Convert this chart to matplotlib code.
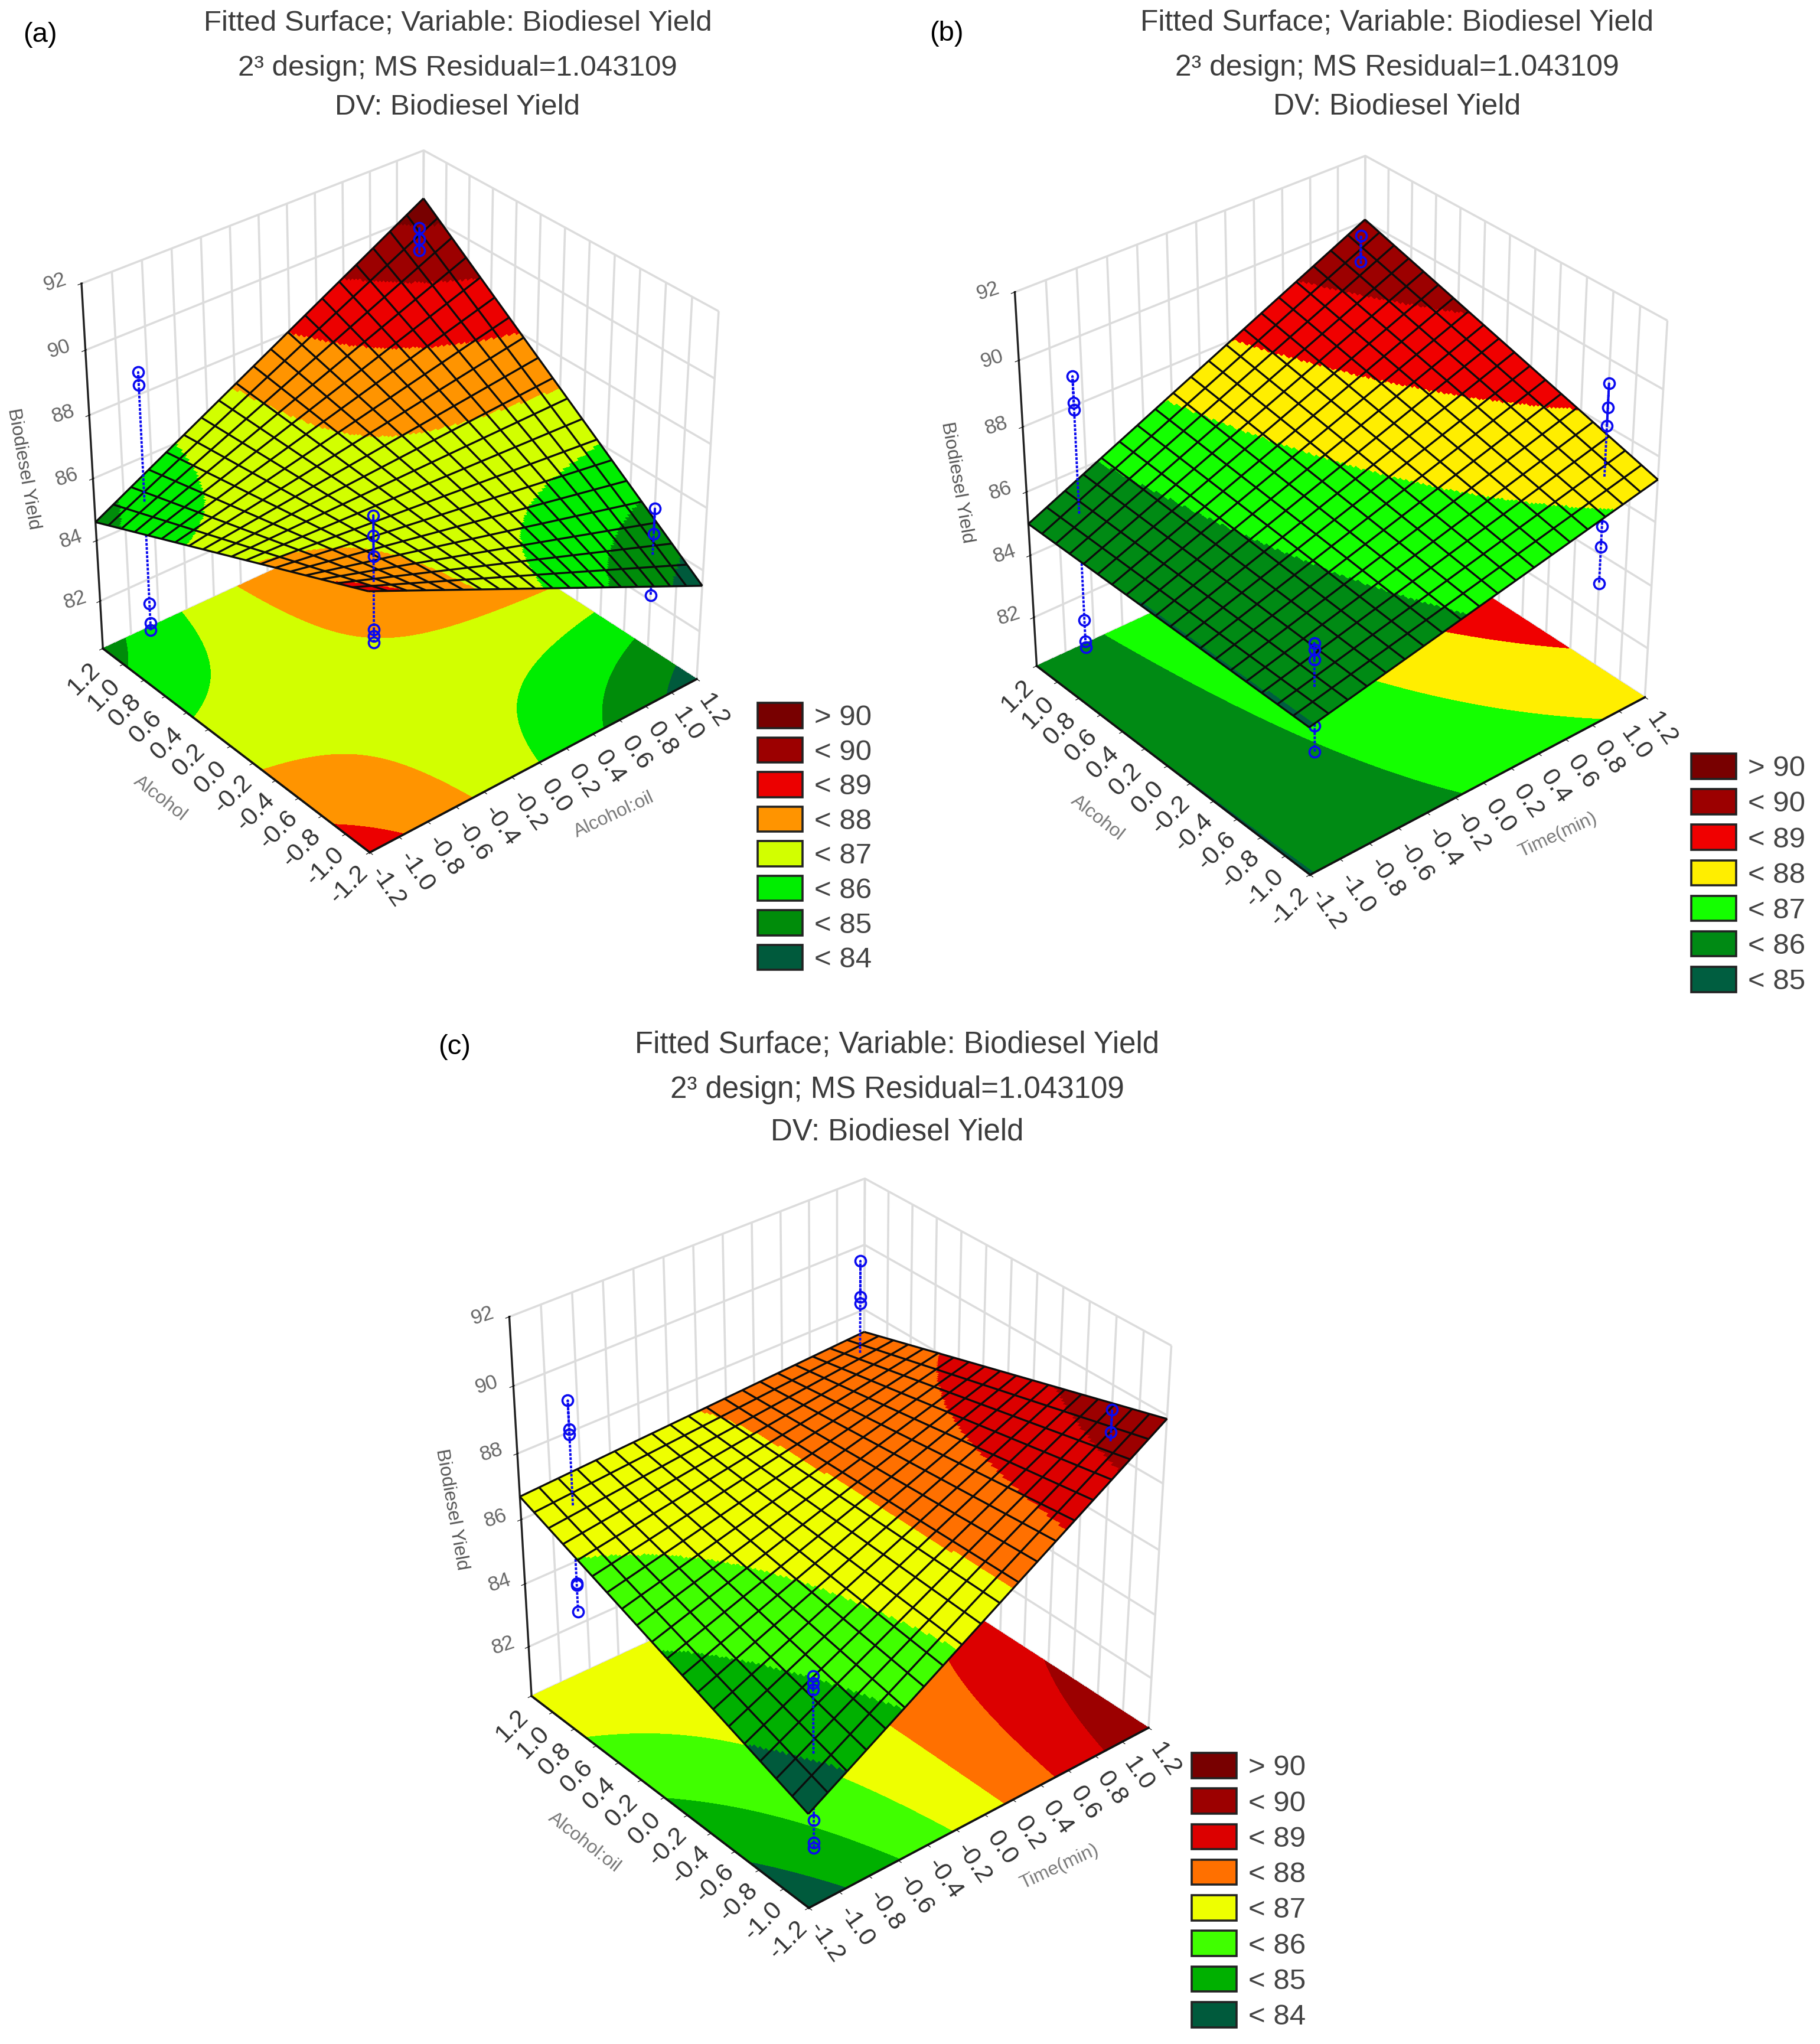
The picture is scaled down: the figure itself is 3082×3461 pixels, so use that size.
import numpy as np
import matplotlib
matplotlib.use("Agg")
import matplotlib.pyplot as plt
from matplotlib.colors import ListedColormap, BoundaryNorm
from matplotlib.patches import Patch
from mpl_toolkits.mplot3d import proj3d
from itertools import product

W, H = 3082, 3461
plt.rcParams['font.family'] = ['Liberation Sans', 'DejaVu Sans']

# ---------- data ----------
TICKS = [-1.2, -1.0, -0.8, -0.6, -0.4, -0.2, 0.0, 0.2, 0.4, 0.6, 0.8, 1.0, 1.2]
TICK_LABELS = ["-1.2", "-1.0", "-0.8", "-0.6", "-0.4", "-0.2", "0.0", "0.2", "0.4", "0.6", "0.8", "1.0", "1.2"]
Z_TICKS = [82, 84, 86, 88, 90, 92]
Z_FLOOR = 80.4
Z_TOP = 92
TITLE_LINES = ["Fitted Surface; Variable: Biodiesel Yield",
               "2³ design; MS Residual=1.043109",
               "DV: Biodiesel Yield"]

# fitted model: yield = b0 + bx*x + by*y + bxy*x*y
coef_a = [86.775, 0.1875, 0.646, 1.892]
coef_b = [86.83, 1.5375, 0.579, 0.472]
coef_c = [86.80, 1.500, 0.167, -1.042]

# observed yields at the design points (x, y) = (-1,-1), (-1,1), (1,1), (1,-1)
obs_a = [[89.8, 89.2, 88.6, 86.4, 86.2, 86.0], [89.4, 89.0, 82.0, 81.35, 81.1],
         [90.3, 89.95, 89.6], [85.9, 85.1, 83.1]]
obs_b = [[86.5, 86.3, 86.0, 84.0, 83.2], [89.6, 88.8, 88.6, 82.0, 81.3, 81.1],
         [90.3, 89.5], [90.1, 89.4, 88.85, 85.8, 85.15, 84.0]]
obs_c = [[86.4, 86.2, 86.0, 82.05, 81.35, 81.2], [89.65, 88.8, 88.65, 84.1, 84.05, 83.2],
         [90.25, 89.15, 88.95], [90.1, 89.45]]
design_x = [-1, -1, 1, 1]
design_y = [-1, 1, 1, -1]

levels_a = [70, 84, 85, 86, 87, 88, 89, 90, 100]
colors_a = ['#005a3c', '#008c0a', '#00ee00', '#d2ff00', '#ff9400', '#ec0000', '#9c0000', '#780000']
labels_a = ['> 90', '< 90', '< 89', '< 88', '< 87', '< 86', '< 85', '< 84']
levels_b = [70, 85, 86, 87, 88, 89, 90, 100]
colors_b = ['#005e40', '#008a14', '#14ff00', '#ffee00', '#f00000', '#9c0000', '#780000']
labels_b = ['> 90', '< 90', '< 89', '< 88', '< 87', '< 86', '< 85']
levels_c = [70, 84, 85, 86, 87, 88, 89, 90, 100]
colors_c = ['#005a3c', '#00b000', '#40ff00', '#eeff00', '#ff7000', '#dc0000', '#9c0000', '#780000']
labels_c = ['> 90', '< 90', '< 89', '< 88', '< 87', '< 86', '< 85', '< 84']

fig = plt.figure(figsize=(W / 100, H / 100), dpi=100, facecolor='white')


def place(ax, box):
    """Scale and shift the 3D axes so its projected box fills box=(x0,y0,x1,y1) in px (y down)."""
    tx0, ty0, tx1, ty1 = box
    xl, yl, zl = ax.get_xlim(), ax.get_ylim(), ax.get_zlim()
    c = np.array(list(product(xl, yl, zl)))
    for _ in range(3):
        ax.apply_aspect()
        M = ax.get_proj()
        px, py, _z = proj3d.proj_transform(c[:, 0], c[:, 1], c[:, 2], M)
        d = ax.transData.transform(np.c_[px, py])
        w = d[:, 0].max() - d[:, 0].min()
        h = d[:, 1].max() - d[:, 1].min()
        cx = (d[:, 0].max() + d[:, 0].min()) / 2
        cy = (d[:, 1].max() + d[:, 1].min()) / 2
        s = 0.5 * ((tx1 - tx0) / w + (ty1 - ty0) / h)
        p = ax.get_position()
        ax_cx, ax_cy = (p.x0 + p.width / 2) * W, (p.y0 + p.height / 2) * H
        side = p.width * W * s
        new_cx = (tx0 + tx1) / 2 - (cx - ax_cx) * s
        new_cy = (H - (ty0 + ty1) / 2) - (cy - ax_cy) * s
        ax.set_position([(new_cx - side / 2) / W, (new_cy - side / 2) / H, side / W, side / H])


def panel(box, coef, obs, levels, colors, labels, xlabel, ylabel, title_xy, title_fs, tag, tag_xy,
          leg_xy, leg_sp, pads):
    b0, bx, by, bxy = coef
    model = lambda x, y: b0 + bx * x + by * y + bxy * x * y
    ax = fig.add_axes([0.1, 0.1, 0.4, 0.4], projection='3d')
    ax.set_facecolor('none')
    ax.computed_zorder = False
    ax.view_init(elev=33, azim=-130)
    ax.set_proj_type('persp', focal_length=0.85)
    ax.set_box_aspect((1, 1, 1.0))

    cmap = ListedColormap(colors)
    norm = BoundaryNorm(levels, cmap.N)

    g = np.linspace(-1.2, 1.2, 161)
    X, Y = np.meshgrid(g, g)
    Z = model(X, Y)
    ax.contourf(X, Y, Z, levels=levels, colors=colors, zdir='z', offset=Z_FLOOR, zorder=1)
    XC, YC = X + (g[1] - g[0]) / 2, Y + (g[1] - g[0]) / 2
    ax.plot_surface(X, Y, Z, facecolors=cmap(norm(model(XC, YC))), rstride=1, cstride=1,
                    shade=False, linewidth=0, antialiased=False, zorder=3)
    gm = np.linspace(-1.2, 1.2, 20)
    XM, YM = np.meshgrid(gm, gm)
    ax.plot_wireframe(XM, YM, model(XM, YM), rstride=1, cstride=1, color='#0c0c0c',
                      linewidth=2.4, zorder=4)

    for sx, sy, vals in zip(design_x, design_y, obs):
        fit = model(sx, sy)
        vals = np.array(vals)
        up, lo = vals[vals >= fit], vals[vals < fit]
        for part, zo in ((up, 5), (lo, 2)):
            if len(part):
                zz = np.r_[fit, part]
                ax.plot([sx] * len(zz), [sy] * len(zz), zz, ls=(0, (1.2, 0.6)), lw=2.8,
                        color='#0a0af0', zorder=zo)
                ax.plot([sx] * len(part), [sy] * len(part), part, ls='none', marker='o', ms=13,
                        mfc='none', mec='#0a0af0', mew=2.6, zorder=zo)

    lim = (TICKS[0], TICKS[-1])
    ax.plot([lim[0], lim[1]], [lim[0], lim[0]], [Z_FLOOR, Z_FLOOR], color='#111111', lw=2.6, zorder=1.5)
    ax.plot([lim[0], lim[0]], [lim[0], lim[1]], [Z_FLOOR, Z_FLOOR], color='#111111', lw=2.6, zorder=1.5)

    ax.set_xlim(*lim, view_margin=0)
    ax.set_ylim(*lim, view_margin=0)
    ax.set_zlim(Z_FLOOR, Z_TOP, view_margin=0)
    ax.set_xticks(TICKS, labels=TICK_LABELS)
    ax.set_yticks(TICKS, labels=TICK_LABELS)
    ax.set_zticks(Z_TICKS, labels=[str(v) for v in Z_TICKS])

    for axis in (ax.xaxis, ax.yaxis, ax.zaxis):
        axis.set_pane_color((1, 1, 1, 0))
        axis.pane.set_edgecolor('#dcdcdc')
        axis._axinfo['grid'].update(color='#dcdcdc', linewidth=2.6)
        axis._axinfo['tick'].update(inward_factor=0.12, outward_factor=0.04)
        axis._axinfo['axisline']['linewidth'] = 2.4
        axis.line.set_color('#222222')
        axis.line.set_linewidth(2.4)

    ax.tick_params(axis='x', labelsize=31, labelcolor='#333333', pad=pads[0], labelrotation=-55)
    ax.tick_params(axis='y', labelsize=31, labelcolor='#333333', pad=pads[1], labelrotation=45)
    ax.tick_params(axis='z', labelsize=25, labelcolor='#666666', pad=pads[2], labelrotation=18)
    for lab in ax.get_xticklabels() + ax.get_yticklabels() + ax.get_zticklabels():
        lab.set_horizontalalignment('center')
        lab.set_verticalalignment('center')

    for axis in (ax.xaxis, ax.yaxis, ax.zaxis):
        axis.set_rotate_label(False)
    ax.xaxis._axinfo['label']['ha'] = 'left'
    ax.yaxis._axinfo['label']['ha'] = 'right'
    ax.set_xlabel(xlabel, fontsize=23, color='#777777', rotation=25, labelpad=pads[3])
    ax.set_ylabel(ylabel, fontsize=23, color='#777777', rotation=-38, labelpad=pads[4])
    ax.set_zlabel("Biodiesel Yield", fontsize=23, color='#555555', rotation=-80, labelpad=pads[5])

    place(ax, box)

    tx, ty = title_xy
    for line, yy in zip(TITLE_LINES, ty):
        fig.text(tx / W, 1 - yy / H, line, fontsize=title_fs, color='#3c3c3c', ha='center', va='center')
    fig.text(tag_xy[0] / W, 1 - tag_xy[1] / H, tag, fontsize=34, color='black', ha='center', va='center')

    handles = [Patch(facecolor=c, edgecolor='#222222', linewidth=2.6, label=l)
               for c, l in zip(colors[::-1], labels)]
    fig.legend(handles=handles, loc='upper left', bbox_to_anchor=(leg_xy[0] / W, 1 - leg_xy[1] / H),
               frameon=False, fontsize=35.5, labelcolor='#444444', borderpad=0, borderaxespad=0,
               handlelength=1.55, handleheight=0.95, handletextpad=0.4, labelspacing=leg_sp)


PADS = (20, 20, 12, 38, 43, 32)
panel((145, 247, 1210, 1451), coef_a, obs_a, levels_a, colors_a, labels_a,
      "Alcohol:oil", "Alcohol", (775, (40, 115, 181)), 35.5, "(a)", (68, 59), (1283, 1190), 0.21, PADS)
panel((1731, 250, 2811, 1495), coef_b, obs_b, levels_b, colors_b, labels_b,
      "Time(min)", "Alcohol", (2366, (38, 115, 181)), 35.8, "(b)", (1603, 57), (2864, 1276), 0.243, PADS)
panel((872, 1985, 1974, 3241), coef_c, obs_c, levels_c, colors_c, labels_c,
      "Time(min)", "Alcohol:oil", (1519, (1769, 1846, 1917)), 36.7, "(c)", (770, 1773), (2018, 2968), 0.245, PADS)

fig.savefig("out.png", dpi=100, facecolor='white')
